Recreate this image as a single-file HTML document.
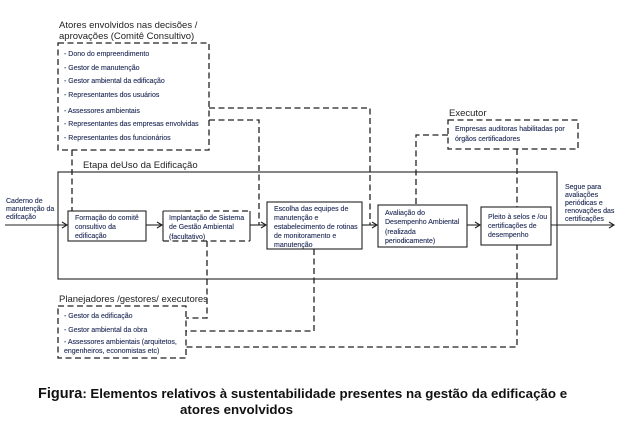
<!DOCTYPE html>
<html><head><meta charset="utf-8"><style>
html,body{margin:0;padding:0;background:#fff;}
svg{display:block;font-family:"Liberation Sans",sans-serif;}
.t{font-size:7px;fill:#1f2a55;stroke:#1f2a55;stroke-width:0.12;}
.h{font-size:9.5px;fill:#222;}
.d{fill:none;stroke:#222;stroke-width:1.3;stroke-dasharray:6,3.5;}
.s{fill:none;stroke:#222;stroke-width:1.1;}
.b{fill:#fff;stroke:#222;stroke-width:1.1;}
</style></head><body>
<svg width="624" height="430" viewBox="0 0 624 430">
<defs><marker id="a" markerWidth="8" markerHeight="8" refX="6" refY="4" orient="auto" markerUnits="userSpaceOnUse"><path d="M1,1 L6,4 L1,7" fill="none" stroke="#222" stroke-width="1.1"/></marker></defs>

<text class="h" x="59" y="28">Atores envolvidos nas decisões /</text>
<text class="h" x="59" y="39">aprovações  (Comitê Consultivo)</text>
<rect class="d" x="58" y="43" width="151" height="107"/>
<g class="t">
<text x="64" y="56">- Dono do empreendimento</text>
<text x="64" y="70">- Gestor de manutenção</text>
<text x="64" y="83">- Gestor ambiental da edificação</text>
<text x="64" y="97">- Representantes dos usuários</text>
<text x="64" y="113">- Assessores ambientais</text>
<text x="64" y="126">- Representantes das empresas envolvidas</text>
<text x="64" y="140">- Representantes dos funcionários</text>
</g>
<path class="d" d="M209,108 H370 V225"/>
<path class="d" d="M209,120 H259 V225"/>
<path class="d" d="M72,150 V211"/>

<text class="h" x="449" y="116">Executor</text>
<rect class="d" x="448" y="120" width="130" height="29"/>
<text class="t" x="455" y="131">Empresas auditoras  habilitadas por</text>
<text class="t" x="455" y="141">órgãos certificadores</text>
<path class="d" d="M448,135 H416 V205"/>
<path class="d" d="M517,149 V347 H186"/>

<text class="h" x="83" y="168">Etapa deUso da Edificação</text>
<rect class="s" x="58" y="172" width="499" height="107"/>

<line class="s" x1="5" y1="225" x2="67" y2="225" marker-end="url(#a)"/>
<line class="s" x1="146" y1="225" x2="162" y2="225" marker-end="url(#a)"/>
<line class="s" x1="250" y1="225" x2="266" y2="225" marker-end="url(#a)"/>
<line class="s" x1="362" y1="225" x2="377" y2="225" marker-end="url(#a)"/>
<line class="s" x1="467" y1="225" x2="480" y2="225" marker-end="url(#a)"/>
<line class="s" x1="551" y1="225" x2="614" y2="225" marker-end="url(#a)"/>

<text class="t" x="6" y="203">Caderno de</text>
<text class="t" x="6" y="211">manutenção da</text>
<text class="t" x="6" y="219">edifcação</text>

<rect class="b" x="68" y="211" width="78" height="30"/>
<text class="t" x="75" y="220">Formação do comitê</text>
<text class="t" x="75" y="229">consultivo da</text>
<text class="t" x="75" y="238">edificação</text>

<rect x="163" y="211" width="87" height="30" fill="#fff"/>
<path class="s" d="M163,211 V241 M250,211 V241 M163,211 H185"/>
<path class="d" d="M185,211 H250 M163,241 H250"/>
<text class="t" x="169" y="220">Implantação de Sistema</text>
<text class="t" x="169" y="229">de Gestão Ambiental</text>
<text class="t" x="169" y="239">(facultativo)</text>
<path class="d" d="M207,241 V318 H186"/>

<rect class="b" x="267" y="202" width="95" height="47"/>
<text class="t" x="274" y="211">Escolha das equipes de</text>
<text class="t" x="274" y="220">manutenção e</text>
<text class="t" x="274" y="229">estabelecimento de rotinas</text>
<text class="t" x="274" y="238">de monitoramento e</text>
<text class="t" x="274" y="247">manutenção</text>
<path class="d" d="M314,249 V331 H186"/>

<rect class="b" x="378" y="205" width="89" height="42"/>
<text class="t" x="385" y="215">Avaliação do</text>
<text class="t" x="385" y="224">Desempenho Ambiental</text>
<text class="t" x="385" y="234">(realizada</text>
<text class="t" x="385" y="243">periodicamente)</text>

<rect class="b" x="481" y="207" width="70" height="38"/>
<text class="t" x="488" y="219">Pleito à selos e /ou</text>
<text class="t" x="488" y="228">certificações de</text>
<text class="t" x="488" y="237">desempenho</text>

<text class="t" x="565" y="189">Segue para</text>
<text class="t" x="565" y="197">avaliações</text>
<text class="t" x="565" y="205">periódicas e</text>
<text class="t" x="565" y="213">renovações das</text>
<text class="t" x="565" y="221">certificações</text>

<text class="h" x="59" y="302">Planejadores /gestores/ executores</text>
<rect class="d" x="58" y="306" width="128" height="52"/>
<text class="t" x="64" y="318">- Gestor da edificação</text>
<text class="t" x="64" y="332">- Gestor ambiental da obra</text>
<text class="t" x="64" y="344">- Assessores ambientais (arquitetos,</text>
<text class="t" x="64" y="353">engenheiros, economistas etc)</text>

<text x="38" y="398" style="font-size:14.5px;font-weight:bold;fill:#111">Figura<tspan style="font-size:13.3px">: Elementos relativos à sustentabilidade presentes na gestão da edificação e</tspan></text>
<text x="180" y="414" style="font-size:13.3px;font-weight:bold;fill:#111">atores envolvidos</text>
</svg>
</body></html>
